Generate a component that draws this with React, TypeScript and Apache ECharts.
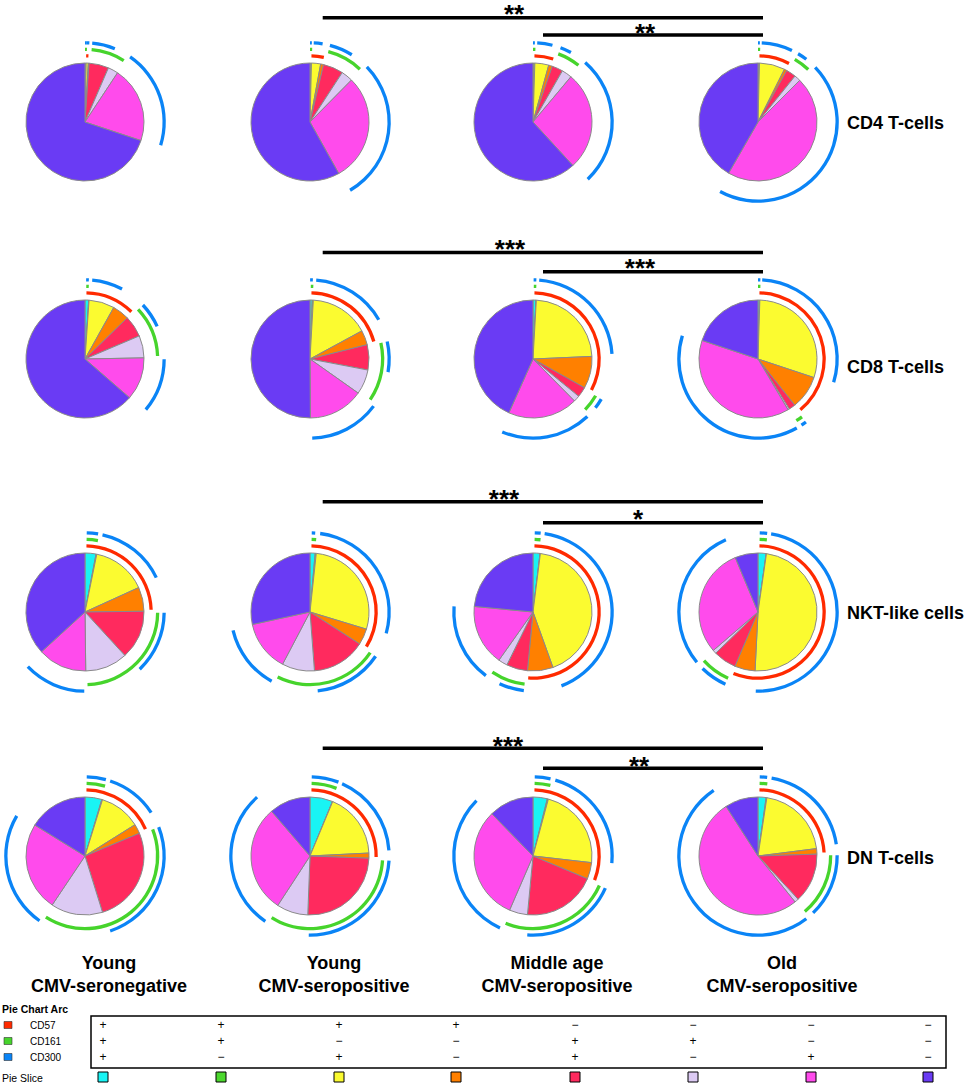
import React, { useEffect, useRef } from "react";
import * as echarts from "echarts";

// ---- categories ----
const sliceNames = [
  "CD57+ CD161+ CD300+",
  "CD57+ CD161+ CD300-",
  "CD57+ CD161- CD300+",
  "CD57+ CD161- CD300-",
  "CD57- CD161+ CD300+",
  "CD57- CD161+ CD300-",
  "CD57- CD161- CD300+",
  "CD57- CD161- CD300-",
];
const sliceColors = ["#19f4f4", "#4cd82e", "#fbfb30", "#ff8000", "#ff2a5e", "#dccaf3", "#ff4bec", "#6a3bf4"];
const markers = ["CD57", "CD161", "CD300"];
const markerColors = ["#ff2a00", "#46d42c", "#0a84f6"];
const markerSigns = [
  ["+", "+", "+", "+", "−", "−", "−", "−"],
  ["+", "+", "−", "−", "+", "+", "−", "−"],
  ["+", "−", "+", "−", "+", "−", "+", "−"],
];
const groupLine1 = ["Young", "Young", "Middle age", "Old"];
const groupLine2 = ["CMV-seronegative", "CMV-seropositive", "CMV-seropositive", "CMV-seropositive"];
const cellTypes = ["CD4 T-cells", "CD8 T-cells", "NKT-like cells", "DN T-cells"];
const sigLong = ["**", "***", "***", "***"];
const sigShort = ["**", "***", "*", "**"];

// ---- slice percentages (order of sliceNames), per group ----
const cd4Slices = [
  [0.2, 0.1, 0.6, 0.2, 5.4, 2.8, 20.8, 69.9],
  [0.2, 0.2, 2.5, 0.8, 5.5, 3.2, 29.5, 58.1],
  [0.2, 0.3, 3.8, 1.0, 3.0, 2.8, 27.1, 61.8],
  [0.2, 0.2, 7.0, 0.7, 2.7, 1.7, 45.8, 41.7],
];
const cd8Slices = [
  [1.0, 0.1, 7.0, 4.6, 5.9, 6.1, 11.7, 63.6],
  [0.6, 0.3, 16.2, 4.0, 6.9, 6.8, 15.1, 50.1],
  [0.8, 0.1, 23.4, 8.8, 2.8, 1.7, 19.1, 43.3],
  [0.4, 0.1, 29.6, 9.2, 1.8, 0.4, 38.6, 19.9],
];
const nktSlices = [
  [3.0, 0.2, 15.0, 6.6, 13.4, 11.6, 13.4, 36.8],
  [1.4, 0.3, 28.0, 4.4, 14.7, 8.9, 13.9, 28.4],
  [1.9, 0.1, 42.5, 7.0, 5.8, 2.5, 16.7, 23.5],
  [2.2, 0.1, 48.5, 5.6, 6.3, 1.0, 30.0, 6.3],
];
const dnSlices = [
  [4.6, 0.2, 11.3, 2.6, 26.5, 14.2, 24.4, 16.2],
  [6.2, 0.1, 17.9, 1.4, 25.0, 8.6, 29.5, 11.3],
  [3.9, 0.3, 22.6, 4.5, 20.2, 5.0, 31.2, 12.3],
  [2.2, 0.2, 20.6, 1.5, 13.6, 1.1, 51.7, 9.1],
];
const allSlices = [cd4Slices, cd8Slices, nktSlices, dnSlices];

// ---- layout ----
const W = 965;
const H = 1090;
const colX = [85, 310, 533, 758];
const rowY = [122, 359, 612, 856];
const PIE_R = 59;
const ARC_R = [
  [64.5, 67.8],
  [71, 74.3],
  [77.5, 80.8],
];
const FONT = '"Liberation Sans", Arial, Helvetica, sans-serif';

function pieSeries(vals: number[], cx: number, cy: number) {
  return {
    type: "pie",
    center: [cx, cy],
    radius: [0, PIE_R],
    startAngle: 90,
    clockwise: true,
    silent: true,
    label: { show: false },
    labelLine: { show: false },
    emphasis: { disabled: true },
    itemStyle: { borderColor: "#8a8a8a", borderWidth: 1 },
    data: vals.map((v, i) => ({ name: sliceNames[i], value: v, itemStyle: { color: sliceColors[i] } })),
  };
}

function arcSeries(vals: number[], k: number, cx: number, cy: number) {
  const total = vals.reduce((a, b) => a + b, 0);
  const gap = 0.0035 * total;
  const minArc = 0.0055 * total;
  const cum: number[] = [0];
  vals.forEach((v) => cum.push(cum[cum.length - 1] + v));
  const pos = markerSigns[k].map((s) => s === "+");
  const items: any[] = [];
  let prevEnd = 0;
  let i = 0;
  while (i < vals.length) {
    if (!pos[i] || vals[i] <= 0) {
      i++;
      continue;
    }
    let j = i;
    while (j + 1 < vals.length && pos[j + 1]) j++;
    const s = cum[i];
    const e = cum[j + 1];
    let a = s + gap;
    let b = e - gap;
    if (b - a < minArc) {
      const c = (s + e) / 2;
      a = c - minArc / 2;
      b = c + minArc / 2;
    }
    a = Math.max(a, prevEnd);
    if (a > prevEnd) items.push({ value: a - prevEnd, itemStyle: { color: "rgba(0,0,0,0)" } });
    items.push({ name: markers[k], value: b - a, itemStyle: { color: markerColors[k] } });
    prevEnd = b;
    i = j + 1;
  }
  if (total > prevEnd) items.push({ value: total - prevEnd, itemStyle: { color: "rgba(0,0,0,0)" } });
  return {
    type: "pie",
    center: [cx, cy],
    radius: ARC_R[k],
    startAngle: 90,
    clockwise: true,
    silent: true,
    label: { show: false },
    labelLine: { show: false },
    emphasis: { disabled: true },
    itemStyle: { borderWidth: 0 },
    data: items,
  };
}

function txt(text: string, x: number, y: number, size: number, bold: boolean, align = "left", extra: any = {}) {
  return {
    type: "text",
    x,
    y,
    silent: true,
    style: {
      text,
      fill: "#000",
      fontSize: size,
      fontWeight: bold ? "bold" : "normal",
      fontFamily: FONT,
      align,
      textAlign: align,
      verticalAlign: "middle",
      textVerticalAlign: "middle",
      ...extra,
    },
  };
}

// significance bar positions
const barLongY = [17.7, 252.5, 501.7, 748.3];
const barShortY = [35, 271.7, 522.7, 768.3];
const starLong = [
  [514, 8.5],
  [510, 243],
  [504, 493],
  [508, 740],
];
const starShort = [
  [645, 27],
  [640, 262],
  [638, 513],
  [639, 760.5],
];
const rowLabelY = [123, 367, 613, 858];
const legendColX = [103, 221, 339, 456, 575, 693, 811, 928];
const legendRowY = [1025, 1041, 1057];

export default function App() {
  const ref = useRef<HTMLDivElement>(null);
  useEffect(() => {
    if (!ref.current) return;
    const chart = echarts.init(ref.current, null, { renderer: "svg" });
    const series: any[] = [];
    allSlices.forEach((row, r) =>
      row.forEach((vals, c) => {
        series.push(pieSeries(vals, colX[c], rowY[r]));
        markers.forEach((_, k) => series.push(arcSeries(vals, k, colX[c], rowY[r])));
      })
    );

    const graphic: any[] = [];
    const STAR = 26;
    for (let r = 0; r < 4; r++) {
      graphic.push({
        type: "line",
        silent: true,
        shape: { x1: 322.7, y1: barLongY[r], x2: 763, y2: barLongY[r] },
        style: { stroke: "#000", lineWidth: 3.5 },
      });
      graphic.push({
        type: "line",
        silent: true,
        shape: { x1: 543, y1: barShortY[r], x2: 763, y2: barShortY[r] },
        style: { stroke: "#000", lineWidth: 3.5 },
      });
      graphic.push(txt(sigLong[r], starLong[r][0], starLong[r][1] + 0.23 * STAR, STAR, true, "center"));
      graphic.push(txt(sigShort[r], starShort[r][0], starShort[r][1] + 0.23 * STAR, STAR, true, "center"));
      graphic.push(txt(cellTypes[r], 847, rowLabelY[r], 18, true, "left"));
    }
    for (let c = 0; c < 4; c++) {
      graphic.push(txt(groupLine1[c], colX[c] + 24, 963, 18, true, "center"));
      graphic.push(txt(groupLine2[c], colX[c] + 24, 986, 18, true, "center"));
    }
    // legend table
    graphic.push(txt("Pie Chart Arc", 2, 1009, 10.5, true, "left"));
    graphic.push({
      type: "rect",
      silent: true,
      shape: { x: 91, y: 1016, width: 855, height: 52 },
      style: { fill: "none", stroke: "#000", lineWidth: 1.5 },
    });
    markers.forEach((m, k) => {
      graphic.push({
        type: "rect",
        silent: true,
        shape: { x: 4, y: legendRowY[k] - 3.5, width: 8, height: 7 },
        style: { fill: markerColors[k], stroke: "#333", lineWidth: 0.6 },
      });
      graphic.push(txt(m, 30, legendRowY[k], 10, false, "left"));
      markerSigns[k].forEach((s, i) => graphic.push(txt(s, legendColX[i], legendRowY[k], 12, false, "center")));
    });
    graphic.push(txt("Pie Slice", 2, 1078, 10.5, false, "left"));
    sliceColors.forEach((col, i) => {
      graphic.push({
        type: "rect",
        silent: true,
        shape: { x: legendColX[i] - 5, y: 1072, width: 10, height: 10 },
        style: { fill: col, stroke: "#000", lineWidth: 1 },
      });
    });

    chart.setOption({ animation: false, series, graphic });
    return () => chart.dispose();
  }, []);
  return <div ref={ref} style={{ position: "absolute", left: 0, top: 0, width: W, height: H, background: "#fff" }} />;
}
